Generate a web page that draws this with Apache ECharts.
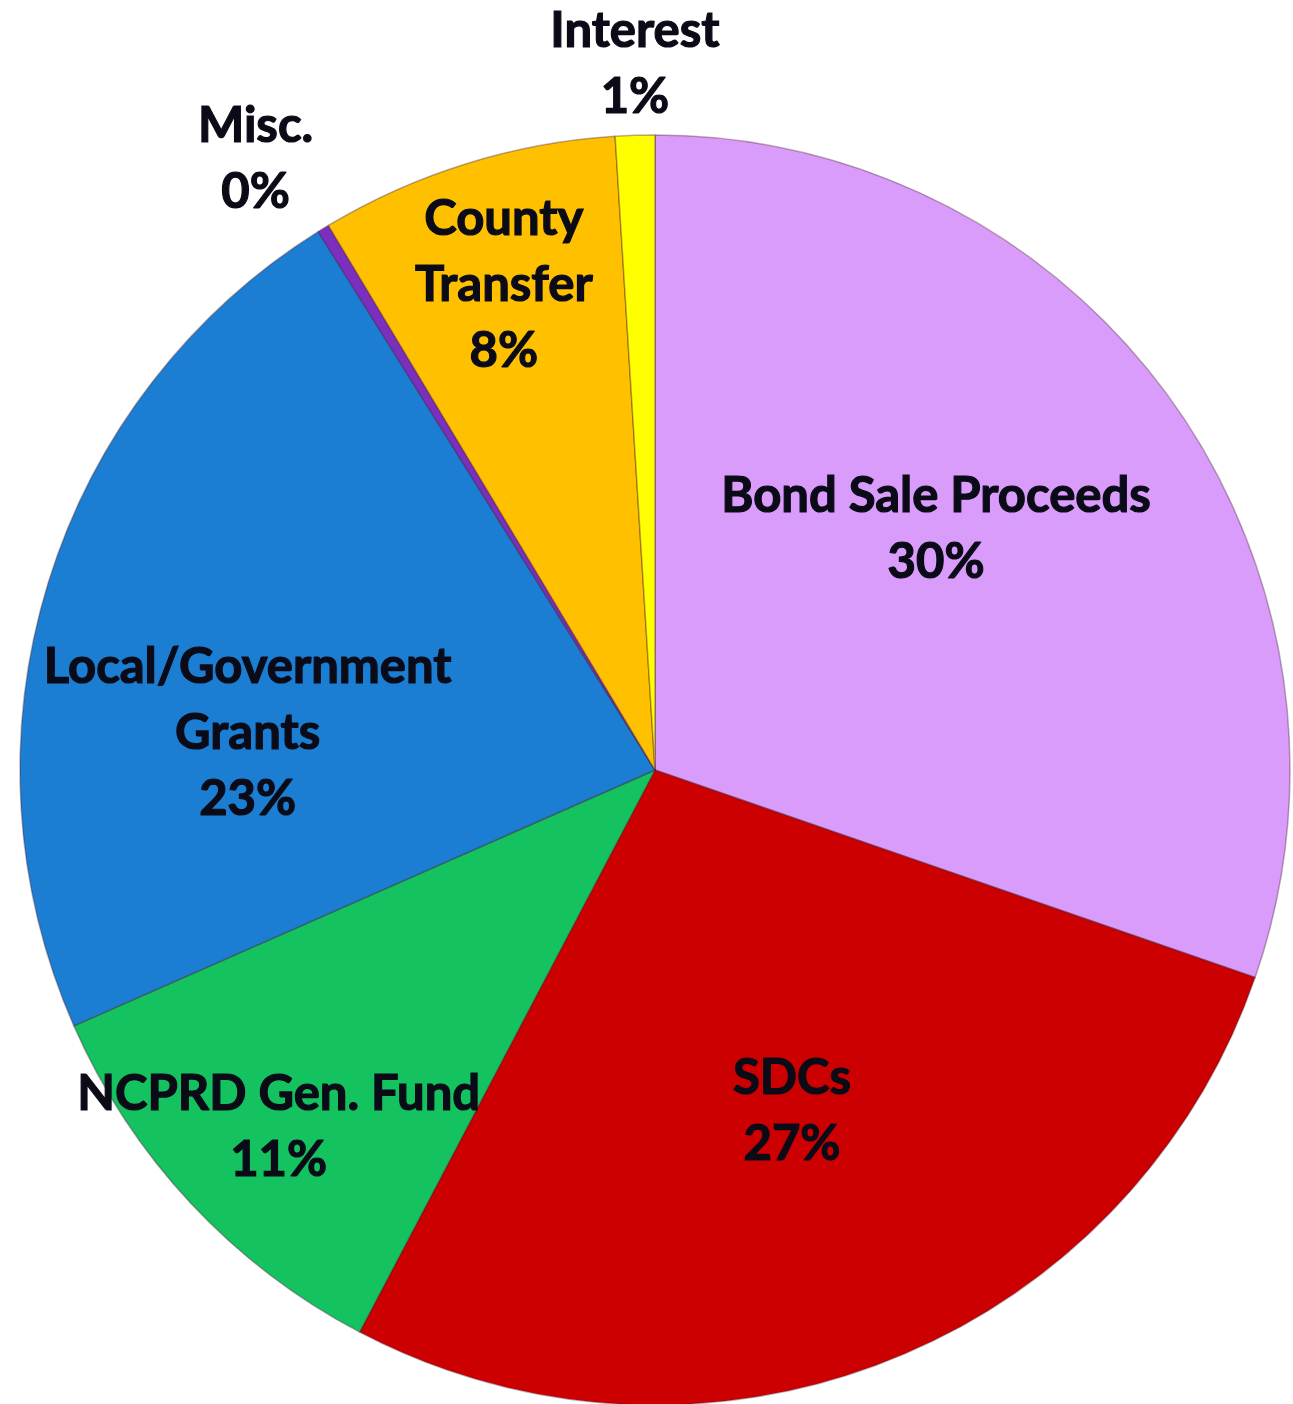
<!DOCTYPE html>
<html>
<head>
<meta charset="utf-8">
<title>Revenue Sources</title>
<script src="https://cdn.jsdelivr.net/npm/echarts@6/dist/echarts.min.js"></script>
<style>
  html, body { margin: 0; padding: 0; background: #fff; }
  #pieChart { width: 1293px; height: 1404px; }
</style>
</head>
<body>
<div id="pieChart"></div>
<script>
const categories = [
  'Bond Sale Proceeds',
  'SDCs',
  'NCPRD Gen. Fund',
  'Local/Government\nGrants',
  'Misc.',
  'County\nTransfer',
  'Interest'
]
const values = [30.3, 27.4, 10.7, 22.7, 0.3, 7.6, 1.0]
const colors = ['#D99CFA', '#CC0000', '#14C25F', '#1B7ED2', '#7B2FBE', '#FFC000', '#FFFF00']

// label nudges from the default inside position, in px
const labelShift = [
  [20, -55],
  [19, 43],
  [-142, 139],
  [-101, 57],
  [-232, -338],
  [-56, -179],
  [-10, -385]
]

const myChart = echarts.init(document.getElementById('pieChart'))
const option = {
  animation: false,
  series: [
    {
      type: 'pie',
      center: [655, 770],
      radius: 635,
      startAngle: 90,
      clockwise: true,
      percentPrecision: 0,
      itemStyle: {
        borderColor: 'rgba(60, 20, 40, 0.35)',
        borderWidth: 1.5
      },
      label: {
        show: true,
        position: 'inside',
        formatter: '{b}\n{d}%',
        fontFamily: 'Lato',
        fontWeight: 'bold',
        fontSize: 49,
        lineHeight: 66,
        color: '#0b0b18',
        textBorderColor: '#0b0b18',
        textBorderWidth: 1.2,
        align: 'center'
      },
      labelLine: { show: false },
      labelLayout: function(params) {
        const s = labelShift[params.dataIndex]
        return { dx: s[0], dy: s[1] }
      },
      data: categories.map(function(name, i) {
        return {
          name: name,
          value: values[i],
          itemStyle: { color: colors[i] }
        }
      })
    }
  ]
}
myChart.setOption(option)
</script>
</body>
</html>
